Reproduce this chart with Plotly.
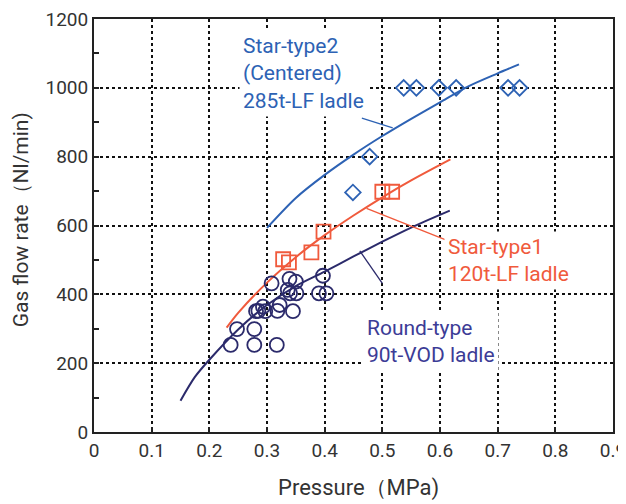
import plotly.graph_objects as go

# ---- data ----
round_x = [0.237, 0.278, 0.317, 0.248, 0.278, 0.281, 0.285, 0.293, 0.297, 0.318, 0.322,
           0.345, 0.308, 0.339, 0.350, 0.336, 0.351, 0.340, 0.397, 0.390, 0.403]
round_y = [253, 253, 253, 299, 299, 351, 352, 364, 351, 352, 369,
           351, 432, 445, 437, 413, 403, 403, 454, 403, 403]

star1_x = [0.328, 0.338, 0.377, 0.398, 0.500, 0.517]
star1_y = [502, 493, 522, 582, 698, 698]

star2_x = [0.449, 0.478, 0.537, 0.559, 0.598, 0.628, 0.718, 0.738]
star2_y = [696, 800, 1000, 1000, 1000, 1000, 1000, 1000]

round_fit_x = [0.15, 0.175, 0.2, 0.25, 0.3, 0.35, 0.4, 0.45, 0.5, 0.55, 0.617]
round_fit_y = [91, 160, 210, 298, 369, 424, 466, 510, 553, 594, 643]

star1_fit_x = [0.23, 0.25, 0.3, 0.35, 0.4, 0.45, 0.5, 0.55, 0.618]
star1_fit_y = [303, 346, 434, 508, 572, 629, 682, 731, 792]

star2_fit_x = [0.3, 0.35, 0.4, 0.45, 0.5, 0.55, 0.6, 0.65, 0.7, 0.737]
star2_fit_y = [593, 680, 747, 806, 860, 910, 958, 1005, 1042, 1068]

x_ticks = [0, 0.1, 0.2, 0.3, 0.4, 0.5, 0.6, 0.7, 0.8, 0.9]
x_labels = ["0", "0.1", "0.2", "0.3", "0.4", "0.5", "0.6", "0.7", "0.8", "0.9"]
y_ticks = [0, 200, 400, 600, 800, 1000, 1200]

x_title = "Pressure（MPa)"
y_title = "Gas flow rate（Nl/min)"

NAVY = "#2B2A6B"
NAVY_TXT = "#3C3C96"
RED = "#F05A3C"
BLUE = "#2D62B4"
TXT = "#333"
FONT = "Roboto"

fig = go.Figure()

fig.add_trace(go.Scatter(x=round_fit_x, y=round_fit_y, mode="lines",
                         line=dict(color=NAVY, width=2, shape="spline", smoothing=0.8),
                         hoverinfo="skip"))
fig.add_trace(go.Scatter(x=star1_fit_x, y=star1_fit_y, mode="lines",
                         line=dict(color=RED, width=2, shape="spline", smoothing=0.8),
                         hoverinfo="skip"))
fig.add_trace(go.Scatter(x=star2_fit_x, y=star2_fit_y, mode="lines",
                         line=dict(color=BLUE, width=2, shape="spline", smoothing=0.8),
                         hoverinfo="skip"))

fig.add_trace(go.Scatter(x=round_x, y=round_y, mode="markers",
                         marker=dict(symbol="circle-open", size=14, color=NAVY,
                                     line=dict(width=1.8, color=NAVY))))
fig.add_trace(go.Scatter(x=star1_x, y=star1_y, mode="markers",
                         marker=dict(symbol="square-open", size=14, color=RED,
                                     line=dict(width=1.8, color=RED))))
fig.add_trace(go.Scatter(x=star2_x, y=star2_y, mode="markers",
                         marker=dict(symbol="diamond-open", size=12, color=BLUE,
                                     line=dict(width=1.8, color=BLUE))))

# leader lines
fig.add_shape(type="line", x0=0.4645, y0=912, x1=0.518, y1=884, line=dict(color=BLUE, width=1.3))
fig.add_shape(type="line", x0=0.4726, y0=650, x1=0.610, y1=558, line=dict(color=RED, width=1.3))
fig.add_shape(type="line", x0=0.461, y0=526, x1=0.500, y1=432, line=dict(color=NAVY, width=1.3))

ann_font = 21
fig.add_annotation(x=0.2513, y=1168, xref="x", yref="y", xanchor="left", yanchor="top",
                   text="Star-type2<br>(Centered)<br>285t-LF ladle", showarrow=False, align="left",
                   font=dict(family=FONT, size=ann_font, color=BLUE), bgcolor="white", borderpad=3)
fig.add_annotation(x=0.6066, y=584, xref="x", yref="y", xanchor="left", yanchor="top",
                   text="Star-type1<br>120t-LF ladle", showarrow=False, align="left",
                   font=dict(family=FONT, size=ann_font, color=RED), bgcolor="white", borderpad=3)
fig.add_annotation(x=0.466, y=349, xref="x", yref="y", xanchor="left", yanchor="top",
                   text="Round-type<br>90t-VOD ladle", showarrow=False, align="left",
                   font=dict(family=FONT, size=ann_font, color=NAVY_TXT), bgcolor="white", borderpad=3)

# axis titles
fig.add_annotation(x=0.5096, y=-0.1356, xref="paper", yref="paper", xanchor="center", yanchor="middle",
                   text=x_title, showarrow=False, font=dict(family=FONT, size=22, color=TXT))
fig.add_annotation(x=-0.1405, y=0.513, xref="paper", yref="paper", xanchor="center", yanchor="middle",
                   text=y_title, showarrow=False, textangle=-90, font=dict(family=FONT, size=21, color=TXT))

axis_common = dict(
    showline=True, linecolor="#222", linewidth=2, mirror=True,
    showgrid=True, gridcolor="#111", griddash="dot", gridwidth=1.5,
    zeroline=False, ticks="inside", ticklen=5, tickwidth=1.5, tickcolor="#222",
    tickfont=dict(family=FONT, size=19, color=TXT), automargin=False,
    ticklabeloverflow="allow",
)

fig.update_xaxes(range=[0, 0.9], tickvals=x_ticks, ticktext=x_labels, **axis_common)
fig.update_yaxes(range=[0, 1200], tickvals=y_ticks,
                 minor=dict(dtick=100, ticks="inside", ticklen=5, tickwidth=1.5, tickcolor="#222", showgrid=False),
                 **axis_common)

# page body has an 8px margin, so the figure is 8px smaller and left/top margins shifted
fig.update_layout(
    width=618, height=496,
    margin=dict(l=86, r=13, t=11, b=72, autoexpand=False),
    plot_bgcolor="white", paper_bgcolor="white",
    showlegend=False,
)

fig.write_html("out.html")
